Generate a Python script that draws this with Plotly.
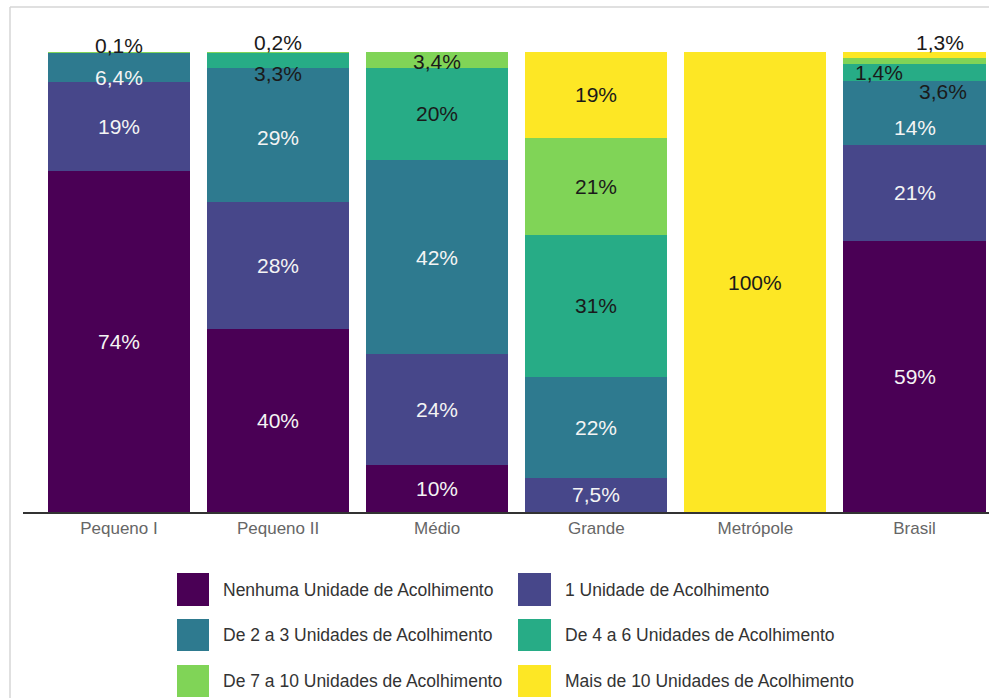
import plotly.graph_objects as go

# ---------------- data ----------------
categories = ["Pequeno I", "Pequeno II", "Médio", "Grande", "Metrópole", "Brasil"]
series_names = [
    "Nenhuma Unidade de Acolhimento",
    "1 Unidade de Acolhimento",
    "De 2 a 3 Unidades de Acolhimento",
    "De 4 a 6 Unidades de Acolhimento",
    "De 7 a 10 Unidades de Acolhimento",
    "Mais de 10 Unidades de Acolhimento",
]
nenhuma = [74.1, 39.7, 10.2, 0.0, 0.0, 59.0]
uma = [19.4, 27.6, 24.1, 7.5, 0.0, 20.8]
de2a3 = [6.4, 29.2, 42.2, 21.8, 0.0, 13.9]
de4a6 = [0.0, 3.3, 20.1, 31.0, 0.0, 3.6]
de7a10 = [0.1, 0.2, 3.4, 21.1, 0.0, 1.4]
mais10 = [0.0, 0.0, 0.0, 18.6, 100.0, 1.3]
series_values = [nenhuma, uma, de2a3, de4a6, de7a10, mais10]

# ---------------- styles ----------------
colors = ["#4a0055", "#47478a", "#2e7a8f", "#27ac86", "#80d457", "#fde725"]
label_colors = ["#f4f4f4", "#f4f4f4", "#f4f4f4", "#1a1a1a", "#1a1a1a", "#1a1a1a"]
# pixel offsets for labels that are pushed away from small segments (xshift, yshift)
label_shift = {
    (0, 4): (0, 7), (0, 2): (0, -10),
    (1, 4): (0, 10), (1, 3): (0, -13), (1, 2): (0, -2),
    (2, 4): (0, -2),
    (5, 5): (25, 12), (5, 4): (-36, -11), (5, 3): (28, -19), (5, 2): (0, -15),
}
FONT = "Liberation Sans, Arial, sans-serif"

W, H = 989, 698
L, R_PX, T, B_PX = 23, 989, 52, 512


def px_x(px):
    return (px - L) / (R_PX - L)


def px_y(py):
    return (B_PX - py) / (B_PX - T)


def fmt(v):
    if v >= 10:
        return f"{round(v):d}%"
    return f"{v:.1f}".replace(".", ",") + "%"


fig = go.Figure()
for name, vals, col in zip(series_names, series_values, colors):
    fig.add_trace(go.Bar(
        x=categories, y=vals, name=name, width=0.893,
        marker=dict(color=col, line=dict(width=0)),
        showlegend=False,
        hovertemplate="%{x}<br>" + name + ": %{y}%<extra></extra>",
    ))

annotations = []
for ci, cat in enumerate(categories):
    base = 0.0
    for si, vals in enumerate(series_values):
        v = vals[ci]
        if v > 0:
            xs, ys = label_shift.get((ci, si), (0, 0))
            annotations.append(dict(
                x=cat, y=base + v / 2, xref="x", yref="y", text=fmt(v),
                showarrow=False, xanchor="center", yanchor="middle",
                xshift=xs, yshift=ys,
                font=dict(family=FONT, size=21, color=label_colors[si]),
            ))
        base += v

# custom legend (2 columns, 3 rows)
shapes = []
leg_cols = [(177, 209, 221), (518, 551, 563)]
leg_rows = [(573, 606), (619, 651), (665, 697)]
for i, (name, col) in enumerate(zip(series_names, colors)):
    r, c = divmod(i, 2)
    x0, x1, tx = leg_cols[c]
    y0, y1 = leg_rows[r]
    shapes.append(dict(type="rect", xref="paper", yref="paper",
                       x0=px_x(x0), x1=px_x(x1), y0=px_y(y1), y1=px_y(y0),
                       fillcolor=col, line=dict(width=0)))
    annotations.append(dict(
        x=px_x(tx), y=px_y((y0 + y1) / 2), xref="paper", yref="paper",
        text=name, showarrow=False, xanchor="left", yanchor="middle",
        font=dict(family=FONT, size=17.5, color="#333333"),
    ))

# light frame lines (left and top)
shapes.append(dict(type="line", xref="paper", yref="paper",
                   x0=px_x(10), x1=px_x(10), y0=px_y(7), y1=px_y(700),
                   line=dict(color="#d6d6d6", width=1.5)))
shapes.append(dict(type="line", xref="paper", yref="paper",
                   x0=px_x(10), x1=px_x(995), y0=px_y(7), y1=px_y(7),
                   line=dict(color="#d6d6d6", width=1.5)))

fig.update_layout(
    width=W, height=H,
    margin=dict(l=L, r=W - R_PX, t=T, b=H - B_PX, pad=0),
    barmode="stack",
    plot_bgcolor="white", paper_bgcolor="white",
    annotations=annotations, shapes=shapes,
    xaxis=dict(range=[-0.603, 5.468], showline=True, linecolor="#333333", linewidth=2,
               ticks="", showgrid=False, zeroline=False,
               tickfont=dict(family=FONT, size=17, color="#666666")),
    yaxis=dict(range=[0, 100], visible=False, showgrid=False, zeroline=False),
    font=dict(family=FONT),
)

fig.write_html(
    "out.html",
    config={"displayModeBar": False},
    post_script="document.body.style.margin='0';document.body.style.overflow='hidden';",
)
